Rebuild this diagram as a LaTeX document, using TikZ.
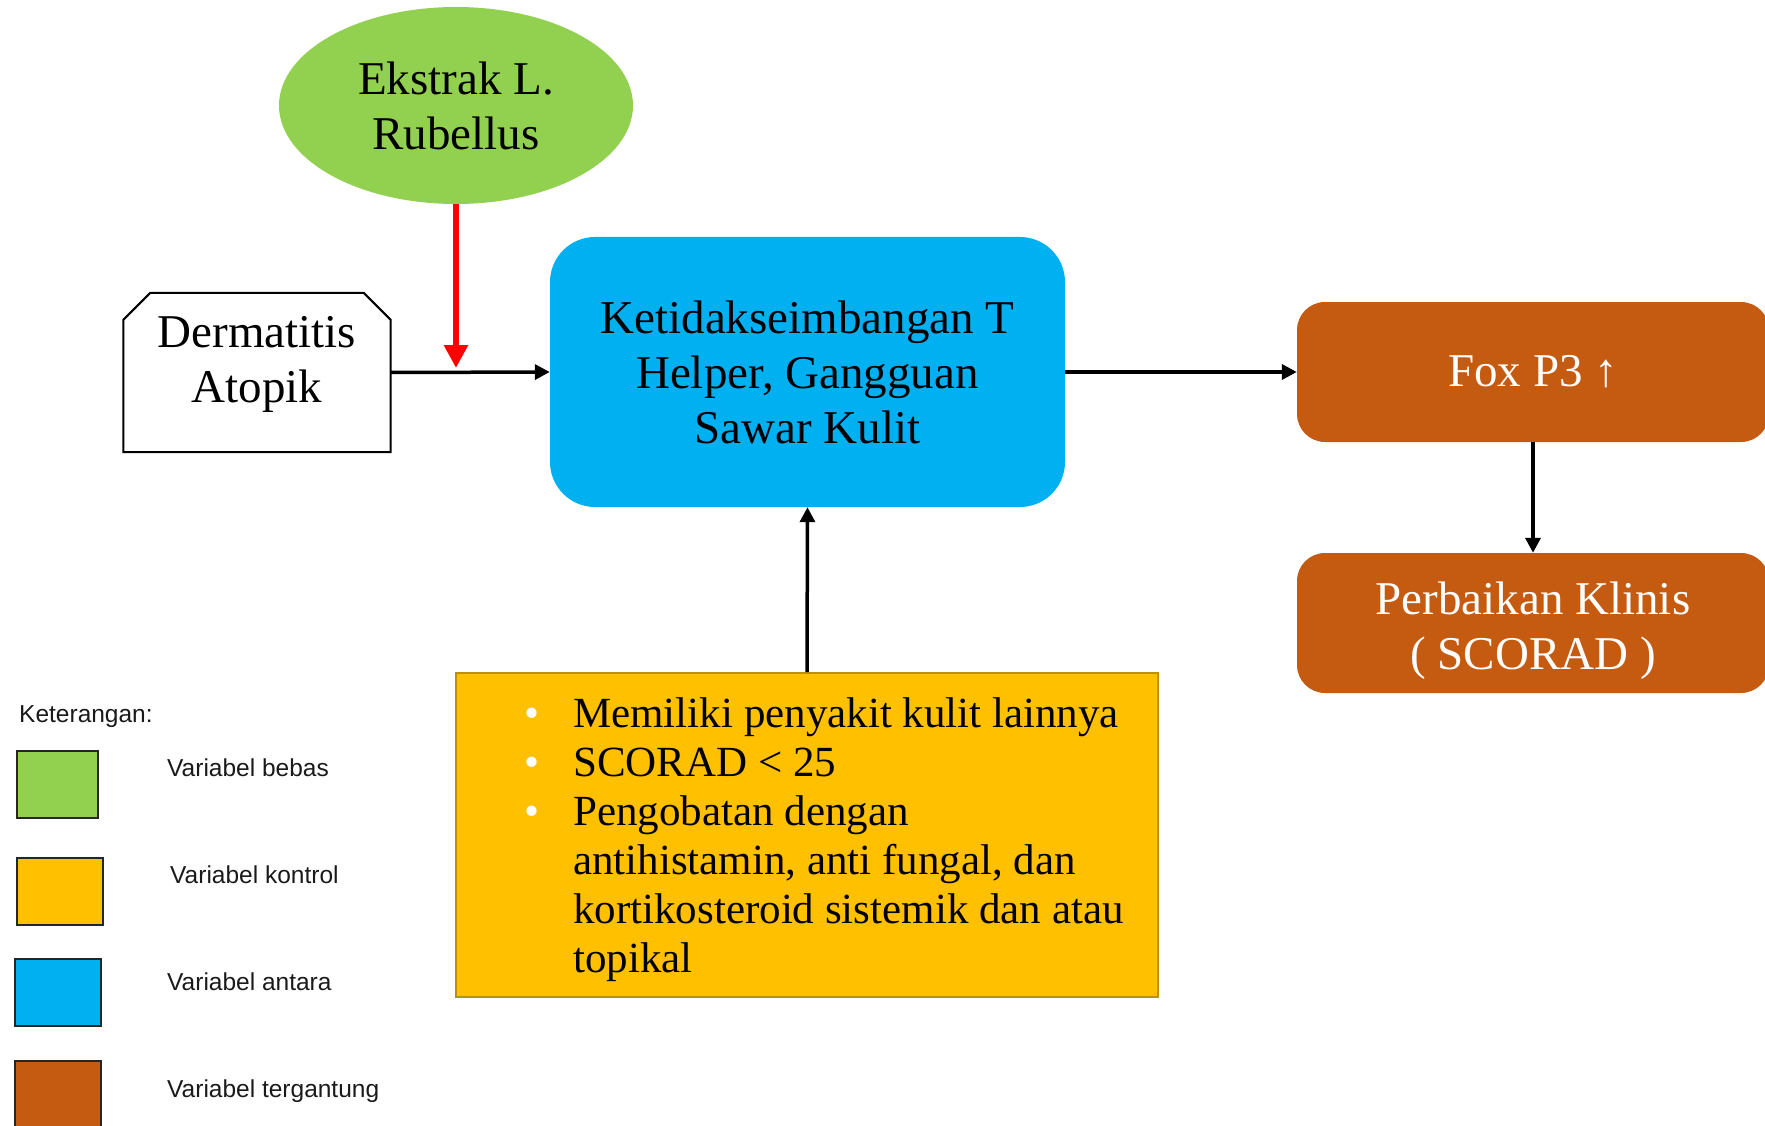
\documentclass[tikz,border=0pt]{standalone}
\usepackage{fontspec}
\setmainfont{Liberation Serif}
\newfontfamily\legendfont{Liberation Sans}
\usepackage{tikz}
\usetikzlibrary{arrows.meta,positioning,shapes.geometric}
\definecolor{bebas}{HTML}{92D050}
\definecolor{kontrol}{HTML}{FFC000}
\definecolor{kontrolline}{HTML}{BF9000}
\definecolor{antara}{HTML}{00B0F0}
\definecolor{tergantung}{HTML}{C55A11}
\definecolor{legendtext}{HTML}{1A1A1A}
\newcommand{\bigfont}{\fontsize{47}{55}\selectfont}
\newcommand{\listfont}{\fontsize{43}{49}\selectfont}
\newcommand{\legfont}{\legendfont\fontsize{24.5}{28}\selectfont}
\tikzset{%
	bebasnode/.style     = {ellipse, fill=bebas, minimum width=354pt, minimum height=197pt, inner sep=0pt, align=center, font=\bigfont},
	dermbox/.style       = {rectangle, fill=white, minimum width=267pt, minimum height=159pt, inner sep=0pt},
	antarabox/.style     = {rectangle, rounded corners=45pt, fill=antara, minimum width=515pt, minimum height=270pt, align=center, font=\bigfont},
	tergantungbox/.style = {rectangle, rounded corners=28pt, fill=tergantung, text=white, minimum width=472pt, minimum height=140pt, align=center, font=\bigfont},
	kontrolbox/.style    = {rectangle, fill=kontrol, draw=kontrolline, line width=2pt, minimum width=702pt, minimum height=324pt},
	swatch/.style        = {rectangle, draw=black!85, line width=2pt, minimum height=67pt, inner sep=0pt, anchor=north west},
	legtext/.style       = {anchor=base west, inner sep=0pt, text=legendtext, font=\legfont},
	arrow/.style         = {line width=3.5pt, -{Triangle[length=15pt,width=15pt]}},
	redarrow/.style      = {line width=6pt, red, -{Triangle[length=23pt,width=23pt]}},
}

\begin{document}
\begin{tikzpicture}[x=1pt,y=-1pt]
	\useasboundingbox (0,0) rectangle (1765,1126);
	
	\node[bebasnode] (ekstrak) at (456,105.5) {Ekstrak L.\\Rubellus};
	
	\node[dermbox] (derm) at (257,372.5) {};
	\draw[line width=2pt] (derm.south west) -- ([yshift=-27pt]derm.north west) -- ([xshift=27pt]derm.north west) -- ([xshift=-27pt]derm.north east) -- ([yshift=-27pt]derm.north east) -- (derm.south east) -- cycle;
	\node[align=center, font=\bigfont] (dermlabel) at ([yshift=8pt]derm.center) {Dermatitis\\Atopik};
	
	\node[antarabox] (tbox) at (807.5,372) {Ketidakseimbangan T\\Helper, Gangguan\\Sawar Kulit};
	\node[tergantungbox] (fox) at (1533,372) {Fox P3 ↑};
	\node[tergantungbox] (klinis) at (1533,623) {\rule{0pt}{48pt}Perbaikan Klinis\\( SCORAD )};
	
	\node[kontrolbox] (ctrl) at (807,835) {};
	\node[anchor=base west, inner sep=0pt, font=\listfont] (ctrllist) at (524.5,727) {%
		\begin{tabular}[t]{@{}l@{}l@{}}
			\makebox[48.5pt][l]{\textcolor{white}{\textbullet}} & Memiliki penyakit kulit lainnya\\
			\makebox[48.5pt][l]{\textcolor{white}{\textbullet}} & SCORAD < 25\\
			\makebox[48.5pt][l]{\textcolor{white}{\textbullet}} & Pengobatan dengan\\
			& antihistamin, anti fungal, dan\\
			& kortikosteroid sistemik dan atau\\
			& topikal
		\end{tabular}};
	
	\coordinate (hit) at (456,368);
	\draw[arrow] (derm.east) -- (tbox.west);
	\draw[redarrow] (ekstrak.south) -- (hit);
	\draw[arrow] (tbox.east) -- (fox.west);
	\draw[arrow] (fox.south) -- (klinis.north);
	\draw[arrow] (ctrl.north) -- (tbox.south);
	
	\node[legtext] (legtitle) at (19,722) {Keterangan:};
	\foreach \col/\x/\y/\w/\lx/\ly/\txt [count=\i] in {bebas/16/750/81/167/776/Variabel bebas, kontrol/16/857/86/170/883/Variabel kontrol, antara/14/958/86/167/990/Variabel antara, tergantung/14/1060/86/167/1097/Variabel tergantung}
	{
		\node[swatch, fill=\col, minimum width=\w pt] (leg\i) at (\x,\y) {};
		\node[legtext] (legtxt\i) at (\lx,\ly) {\txt};
	}
\end{tikzpicture}
\end{document}
